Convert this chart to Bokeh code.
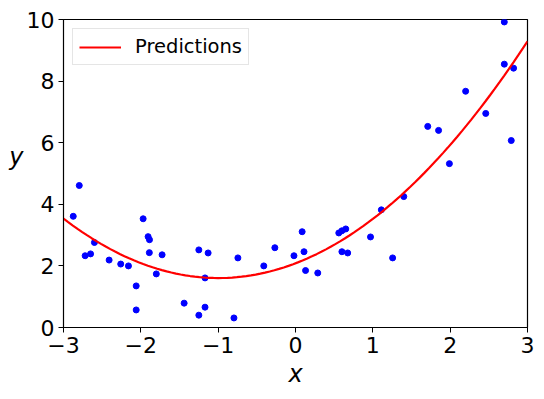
import numpy as np
from bokeh.plotting import figure
from bokeh.models import FixedTicker, Legend, LegendItem
from bokeh.embed import file_html
from bokeh.resources import INLINE

x_data = [-2.874, -2.796, -2.72, -2.65, -2.60, -2.41, -2.26, -2.16, -2.06, -2.06,
          -1.97, -1.906, -1.888, -1.89, -1.80, -1.725, -1.44, -1.25, -1.25, -1.17,
          -1.17, -1.13, -0.796, -0.745, -0.41, -0.267, -0.02, 0.086, 0.11, 0.13,
          0.288, 0.56, 0.60, 0.65, 0.60, 0.675, 0.97, 1.11, 1.256, 1.40,
          1.71, 1.85, 1.99, 2.20, 2.46, 2.70, 2.70, 2.82, 2.79]
y_data = [3.61, 4.61, 2.33, 2.39, 2.76, 2.19, 2.06, 2.00, 1.35, 0.57,
          3.53, 2.95, 2.85, 2.43, 1.74, 2.36, 0.79, 2.52, 0.40, 1.61,
          0.66, 2.42, 0.31, 2.26, 2.00, 2.59, 2.33, 3.11, 2.46, 1.85,
          1.77, 3.07, 3.14, 3.20, 2.46, 2.42, 2.94, 3.82, 2.26, 4.25,
          6.53, 6.40, 5.32, 7.67, 6.95, 9.92, 8.55, 8.42, 6.07]

x_ticks = [-3, -2, -1, 0, 1, 2, 3]
y_ticks = [0, 2, 4, 6, 8, 10]

# quadratic model fitted to the data (as in the original predictions line)
coef = np.polyfit(x_data, y_data, 2)
x_new = np.linspace(-3, 3, 100)
y_new = np.polyval(coef, x_new)

p = figure(width=536, height=391, x_range=(-3, 3), y_range=(0, 10),
           output_backend="svg", toolbar_location=None,
           min_border_left=63, min_border_right=9, min_border_top=19, min_border_bottom=64)
p.background_fill_color = "white"
p.border_fill_color = "white"
p.xgrid.visible = False
p.ygrid.visible = False
p.outline_line_color = "black"
p.outline_line_width = 1.2

pts = p.scatter(x_data, y_data, size=6, color="blue", line_color="blue")
ln = p.line(x_new, y_new, line_color="red", line_width=2.2)

for ax, ticks in ((p.xaxis, x_ticks), (p.yaxis, y_ticks)):
    ax.ticker = FixedTicker(ticks=ticks)
    ax.major_label_overrides = {t: (("\u2212" + str(-t)) if t < 0 else str(t)) for t in ticks}
    ax.minor_tick_line_color = None
    ax.major_tick_in = 0
    ax.major_tick_out = 5
    ax.major_tick_line_color = "black"
    ax.axis_line_color = "black"
    ax.major_label_text_font = "DejaVu Sans"
    ax.major_label_text_font_size = "22px"
    ax.major_label_text_color = "black"
    ax.major_label_standoff = 4
    ax.axis_label_text_font = "DejaVu Sans"
    ax.axis_label_text_font_style = "italic"
    ax.axis_label_text_font_size = "24px"
    ax.axis_label_text_color = "black"
    ax.axis_label_standoff = 4

p.xaxis.axis_label = "x"
p.yaxis.axis_label = "y\n"
p.yaxis.axis_label_orientation = "horizontal"
p.yaxis.axis_label_standoff = 0
p.yaxis.axis_label_text_line_height = 1.2

legend = Legend(items=[LegendItem(label="Predictions", renderers=[ln])],
                location="top_left")
legend.label_text_font = "DejaVu Sans"
legend.label_text_font_size = "19.5px"
legend.label_text_color = "black"
legend.glyph_width = 42
legend.border_line_color = "#cccccc"
legend.border_line_width = 1
legend.margin = 9
legend.padding = 6
legend.label_standoff = 14
p.add_layout(legend)

open("out.html", "w").write(file_html(p, INLINE))
